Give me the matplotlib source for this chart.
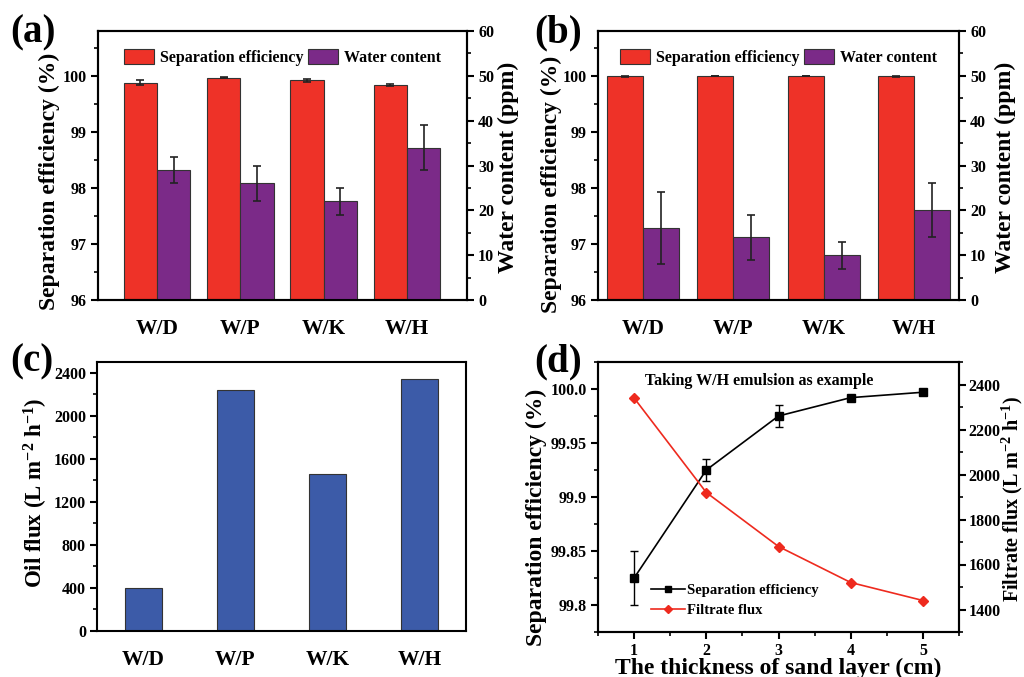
import matplotlib
matplotlib.use("Agg")
import matplotlib.pyplot as plt
import numpy as np
from matplotlib.ticker import MultipleLocator, FixedLocator

plt.rcParams['font.family'] = ['Liberation Serif', 'DejaVu Serif']
plt.rcParams['font.weight'] = 'bold'
plt.rcParams['axes.labelweight'] = 'bold'
plt.rcParams['axes.linewidth'] = 1.5
plt.rcParams['axes.unicode_minus'] = False

categories = ["W/D", "W/P", "W/K", "W/H"]

# Panel (a)
sep_a = [99.88, 99.97, 99.92, 99.83]
sep_a_err = [0.04, 0.01, 0.03, 0.02]
water_a = [29, 26, 22, 34]
water_a_err = [3, 4, 3, 5]

# Panel (b)
sep_b = [99.99, 100.0, 100.0, 99.99]
sep_b_err = [0.003, 0.002, 0.002, 0.003]
water_b = [16, 14, 10, 20]
water_b_err = [8, 5, 3, 6]

# Panel (c)
oil_flux = [400, 2240, 1455, 2340]

# Panel (d)
thickness = [1, 2, 3, 4, 5]
sep_d = [99.825, 99.925, 99.975, 99.992, 99.997]
sep_d_err = [0.025, 0.01, 0.01, 0.0, 0.0]
flux_d = [2340, 1920, 1680, 1520, 1440]

RED = '#EE3228'
PURPLE = '#7B2A88'
BLUE = '#3C5BA8'

fig = plt.figure(figsize=(10.24, 6.77), dpi=100)

W, H = 1024, 677
def ax_rect(l, t, r, b):
    return [l / W, 1 - b / H, (r - l) / W, (b - t) / H]

tick_fs = 11.5
lab_fs = 17
cat_fs = 15.5


def style_y(ax, pad=3):
    ax.tick_params(axis='y', which='major', direction='out', length=5, width=1.5, labelsize=tick_fs, pad=pad)
    ax.tick_params(axis='y', which='minor', direction='out', length=3, width=1.2)


def bar_panel(rect, sep, sep_err, water, water_err, xlim, lcoords, rcoords):
    ax = fig.add_axes(rect)
    x = np.arange(1, len(categories) + 1)
    w = 0.4
    ax.bar(x - w / 2, sep, w, color=RED, edgecolor='#333333', linewidth=0.8,
           yerr=sep_err, capsize=3, error_kw=dict(elinewidth=1.2, capthick=1.2, ecolor='#222222'),
           label='Separation efficiency', zorder=2)
    ax.set_ylim(96, 100.8)
    ax.set_xlim(*xlim)
    ax.yaxis.set_major_locator(FixedLocator([96, 97, 98, 99, 100]))
    ax.yaxis.set_minor_locator(MultipleLocator(0.5))
    ax.set_ylabel('Separation efficiency (%)', fontsize=lab_fs)
    ax.yaxis.set_label_coords(*lcoords)
    style_y(ax)
    ax.set_xticks(x)
    ax.set_xticklabels(categories, fontsize=cat_fs)
    ax.tick_params(axis='x', length=0, pad=14)
    ax2 = ax.twinx()
    ax2.bar(x + w / 2, water, w, color=PURPLE, edgecolor='#333333', linewidth=0.8,
            yerr=water_err, capsize=3, error_kw=dict(elinewidth=1.2, capthick=1.2, ecolor='#222222'),
            label='Water content', zorder=2)
    ax2.set_ylim(0, 60)
    ax2.yaxis.set_major_locator(MultipleLocator(10))
    ax2.yaxis.set_minor_locator(MultipleLocator(5))
    style_y(ax2)
    ax2.set_ylabel('Water content (ppm)', fontsize=lab_fs)
    ax2.yaxis.set_label_coords(*rcoords)
    ax.set_ylim(96, 100.8)
    h1, l1 = ax.get_legend_handles_labels()
    h2, l2 = ax2.get_legend_handles_labels()
    ax2.legend(h1 + h2, l1 + l2, loc='upper center', ncol=2, frameon=False,
               fontsize=11.5, handlelength=1.9, handleheight=1.0, columnspacing=0.3,
               handletextpad=0.35, bbox_to_anchor=(0.5, 0.985))
    for lbl in ax.get_yticklabels() + ax2.get_yticklabels() + ax.get_xticklabels():
        lbl.set_fontweight('bold')
    return ax


ax_a = bar_panel(ax_rect(98, 31, 467, 300), sep_a, sep_a_err, water_a, water_a_err, (0.29, 4.72),
                 (-0.103, 0.44), (1.084, 0.494))
ax_b = bar_panel(ax_rect(598, 31, 959, 300), sep_b, sep_b_err, water_b, water_b_err, (0.5, 4.5),
                 (-0.10, 0.428), (1.10, 0.494))

# Panel (c)
ax_c = fig.add_axes(ax_rect(97, 362, 466, 631))
xc = np.arange(1, len(categories) + 1)
ax_c.bar(xc, oil_flux, 0.4, color=BLUE, edgecolor='#333333', linewidth=0.8)
ax_c.set_xlim(0.5, 4.5)
ax_c.set_ylim(0, 2500)
ax_c.yaxis.set_major_locator(FixedLocator([0, 400, 800, 1200, 1600, 2000, 2400]))
ax_c.yaxis.set_minor_locator(MultipleLocator(200))
style_y(ax_c)
ax_c.set_xticks(xc)
ax_c.set_xticklabels(categories, fontsize=cat_fs)
ax_c.tick_params(axis='x', length=0, pad=14)
ax_c.set_ylabel('Oil flux (L m$\\mathregular{^{-2}}$ h$\\mathregular{^{-1}}$)', fontsize=16.5)
ax_c.yaxis.set_label_coords(-0.127, 0.513)

# Panel (d)
ax_d = fig.add_axes(ax_rect(598, 362, 959, 632))
ax_d.errorbar(thickness, sep_d, yerr=sep_d_err, fmt='none', ecolor='black',
              capsize=3, elinewidth=1.0, capthick=1.0)
l1, = ax_d.plot(thickness, sep_d, color='black', marker='s', markersize=6, linewidth=1.2,
                label='Separation efficiency')
ax_d.set_xlim(0.5, 5.5)
ax_d.set_ylim(99.775, 100.025)
ax_d.yaxis.set_major_locator(FixedLocator([99.8, 99.85, 99.9, 99.95, 100.0]))
ax_d.set_yticklabels(['99.8', '99.85', '99.9', '99.95', '100.0'])
ax_d.yaxis.set_minor_locator(MultipleLocator(0.025))
style_y(ax_d)
ax_d.xaxis.set_major_locator(MultipleLocator(1))
ax_d.xaxis.set_minor_locator(MultipleLocator(0.5))
ax_d.tick_params(axis='x', which='major', direction='out', length=5, width=1.5, labelsize=tick_fs, pad=3)
ax_d.tick_params(axis='x', which='minor', direction='out', length=3, width=1.2)
ax_d.set_xlabel('The thickness of sand layer (cm)', fontsize=17)
ax_d.xaxis.set_label_coords(0.5, -0.095)
ax_d.set_ylabel('Separation efficiency (%)', fontsize=lab_fs)
ax_d.yaxis.set_label_coords(-0.141, 0.426)
ax_d2 = ax_d.twinx()
l2, = ax_d2.plot(thickness, flux_d, color='#EE2A1E', marker='D', markersize=5, linewidth=1.2,
                 label='Filtrate flux')
ax_d2.set_ylim(1300, 2500)
ax_d2.yaxis.set_major_locator(MultipleLocator(200))
ax_d2.yaxis.set_minor_locator(MultipleLocator(100))
style_y(ax_d2, pad=2)
ax_d2.set_ylabel('Filtrate flux (L m$\\mathregular{^{-2}}$ h$\\mathregular{^{-1}}$)', fontsize=14.5)
ax_d2.yaxis.set_label_coords(1.113, 0.493)
ax_d2.legend([l1, l2], ['Separation efficiency', 'Filtrate flux'], loc='upper left',
             bbox_to_anchor=(0.147, 0.178), frameon=False, fontsize=10.5, handlelength=2.3,
             labelspacing=0.45, handletextpad=0.15, markerscale=0.8, borderpad=0,
             borderaxespad=0)
ax_d.text(0.13, 0.93, 'Taking W/H emulsion as example', transform=ax_d.transAxes,
          fontsize=11.5, fontweight='bold', va='center', ha='left')

for a in [ax_c, ax_d, ax_d2]:
    for lbl in a.get_yticklabels() + a.get_xticklabels():
        lbl.set_fontweight('bold')

# Panel labels
for txt, (px, py) in zip(['(a)', '(b)', '(c)', '(d)'], [(10, 33), (534, 33), (10, 362), (534, 362)]):
    fig.text(px / W, 1 - py / H, txt, fontsize=28, fontweight='bold', ha='left', va='center')

fig.savefig('out.png', dpi=100)
